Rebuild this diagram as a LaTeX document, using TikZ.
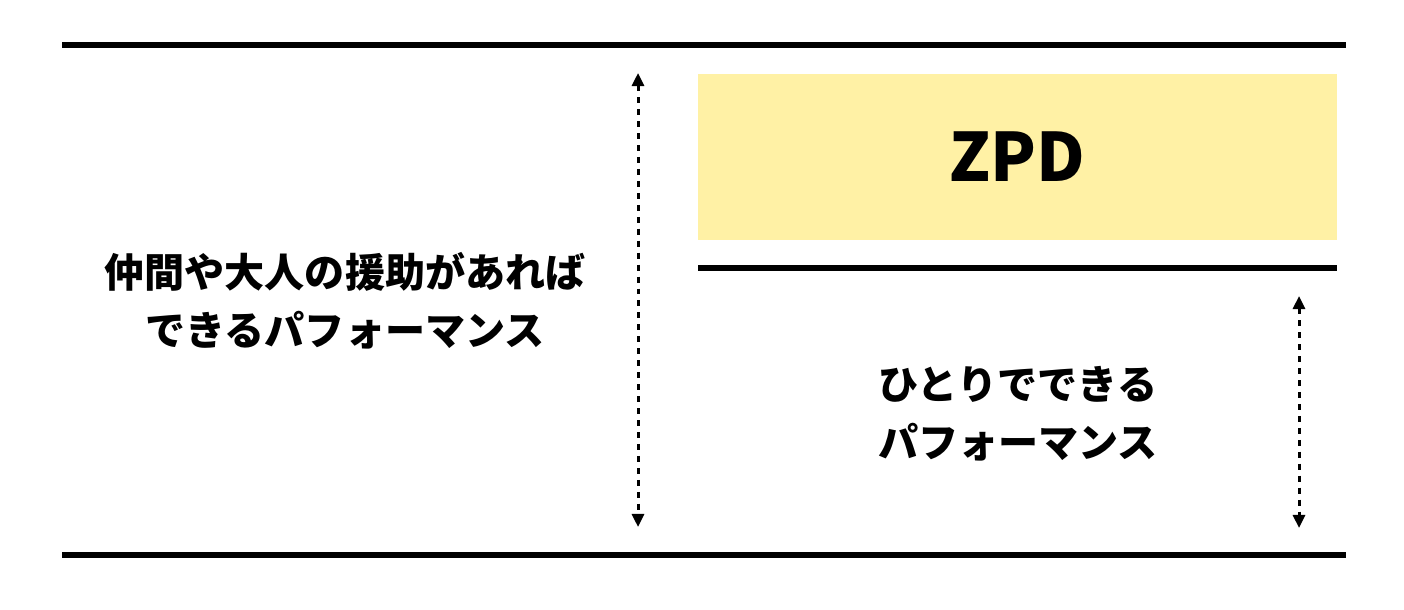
\documentclass[tikz,border=0pt]{standalone}
\usepackage{fontspec}
\newfontfamily\jpbold{Noto Sans CJK JP Black}
\usetikzlibrary{arrows.meta}
\definecolor{zpdyellow}{RGB}{255,241,165}
\tikzset{
    rule/.style={line width=1.5pt},
    span/.style={line width=0.85pt,dash pattern=on 1.7pt off 1.7pt,
        {Triangle[width=3.4pt,length=3.7pt]}-{Triangle[width=3.4pt,length=3.7pt]}},
    caption/.style={font=\jpbold\fontsize{11.4pt}{16.5pt}\selectfont,align=center,inner sep=0pt}
}
\begin{document}
\begin{tikzpicture}[x=0.01cm,y=-0.01cm]
        \useasboundingbox (0,0) rectangle (1404,610);
        \draw[rule] (62,45) -- (1346,45);
        \draw[rule] (62,555) -- (1346,555);
        \draw[rule] (698,268) -- (1337,268);
        \node[fill=zpdyellow,minimum width=6.39cm,minimum height=1.66cm,inner sep=0pt,
            font=\jpbold\fontsize{19pt}{22pt}\selectfont] (zpd) at (1017.5,157) {ZPD};
        \node[caption] (help) at (345,301) {仲間や大人の援助があれば\\できるパフォーマンス};
        \node[caption] (alone) at (1018,414) {ひとりでできる\\パフォーマンス};
        \coordinate (helptop) at (638,73);
        \coordinate (helpbot) at (638,527);
        \coordinate (alonetop) at (1299,296);
        \coordinate (alonebot) at (1299,528);
        \draw[span] (helptop) -- (helpbot);
        \draw[span] (alonetop) -- (alonebot);
    \end{tikzpicture}
\end{document}
